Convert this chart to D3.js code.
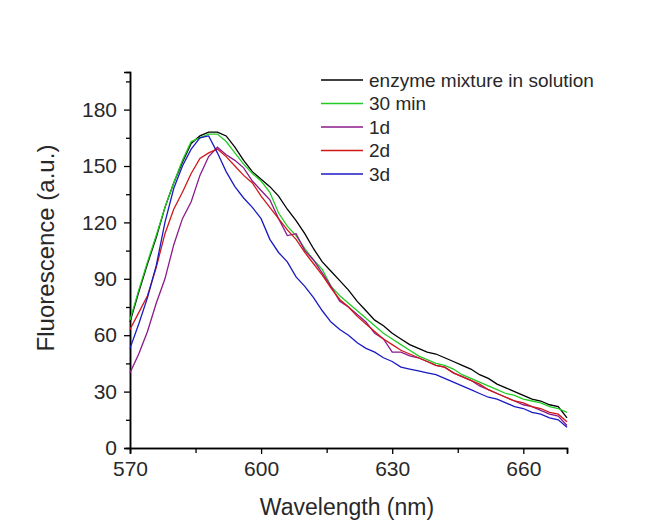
<!DOCTYPE html>
<html>
<head>
<meta charset="utf-8">
<script src="https://cdn.jsdelivr.net/npm/d3@7"></script>
<style>
  body { margin: 0; background: #fff; }
  text { font-family: "Liberation Sans", Arial, sans-serif; fill: #282828; }
</style>
</head>
<body>
<div class="canvas"></div>
<script>
// wavelengths read every 2 nm
const wavelength = [570,572,574,576,578,580,582,584,586,588,590,592,594,596,598,600,602,604,606,608,610,612,614,616,618,620,622,624,626,628,630,632,634,636,638,640,642,644,646,648,650,652,654,656,658,660,662,664,666,668,670]

const enzymeMix = [67,83,98,112,128,141,152,162,166,168,168,166,160,153,147,143,139,134,127,121,114,106,99,94,89,84,78,73,68,65,61,58,55,53,51,50,48,46,44,42,39,37,34,32,30,28,26,25,23,22,16]
const min30 = [68,84,99,113,128,141,153,163,165,167,167,163,157,151,146,142,136,125,118,113,106,100,95,86,81,77,73,69,65,61,58,55,52,49,47,45,44,42,39,37,35,33,31,29,28,26,25,24,22,21,19]
const day1 = [40,50,62,77,90,108,122,131,145,155,160,156,153,149,142,137,132,122,113,114,105,100,93,86,78,75,71,67,61,58,51,51,49,48,46,44,43,40,38,36,33,31,29,27,25,23,22,20,18,17,12]
const day2 = [63,72,81,96,114,127,136,146,154,157,159,155,150,145,141,134,128,122,116,111,104,98,92,85,79,75,70,66,62,58,55,52,50,48,46,44,43,40,38,36,34,31,29,27,25,24,22,21,19,18,14]
const day3 = [53,66,80,97,120,138,150,159,165,166,157,147,139,133,128,122,111,104,99,91,86,80,73,67,63,60,56,53,51,48,46,43,42,41,40,39,37,35,33,31,29,27,26,24,22,21,19,18,16,15,11]

const seriesNames = ["enzyme mixture in solution", "30 min", "1d", "2d", "3d"]
const seriesValues = [enzymeMix, min30, day1, day2, day3]
const seriesColors = ["#000000", "#22cc22", "#8a1a8a", "#d01818", "#1a1ac4"]

const xMajor = [570, 600, 630, 660]
const xMinor = [585, 615, 645]
const yMajor = [0, 30, 60, 90, 120, 150, 180]
const yMinor = [15, 45, 75, 105, 135, 165, 195]

const width = 655
const height = 524
const margin = { top: 72, left: 130 }
const graphWidth = 437
const graphHeight = 376

const svg = d3.select(".canvas")
    .append("svg")
    .attr("width", width)
    .attr("height", height)

const graph = svg.append("g")
    .attr("transform", `translate(${margin.left}, ${margin.top})`)

const scaleX = d3.scaleLinear()
    .domain([570, 670])
    .range([0, graphWidth])

const scaleY = d3.scaleLinear()
    .domain([0, 200])
    .range([graphHeight, 0])

// axes (minor ticks first, then major with labels)
const xMinorAxis = d3.axisBottom(scaleX).tickValues(xMinor).tickSize(5).tickFormat("")
const xAxis = d3.axisBottom(scaleX).tickValues(xMajor).tickSize(6).tickPadding(7)
const yMinorAxis = d3.axisLeft(scaleY).tickValues(yMinor).tickSize(4).tickFormat("")
const yAxis = d3.axisLeft(scaleY).tickValues(yMajor).tickSize(6).tickPadding(7)

graph.append("g").attr("transform", `translate(0, ${graphHeight})`).call(xMinorAxis)
const xAxisGroup = graph.append("g").attr("transform", `translate(0, ${graphHeight})`).call(xAxis)
graph.append("g").call(yMinorAxis)
const yAxisGroup = graph.append("g").call(yAxis)

graph.selectAll(".domain").attr("stroke", "#000").attr("stroke-width", 1.5)
graph.selectAll(".tick line").attr("stroke", "#000").attr("stroke-width", 1.3)
xAxisGroup.selectAll("text").style("font-size", "21px").attr("fill", "#282828")
yAxisGroup.selectAll("text").style("font-size", "21px").attr("fill", "#282828")

// curves
const line = d3.line()
    .x((d, i) => scaleX(wavelength[i]))
    .y(d => scaleY(d))

graph.selectAll(".curve")
    .data(seriesValues)
    .enter()
    .append("path")
    .attr("class", "curve")
    .attr("d", d => line(d))
    .attr("fill", "none")
    .attr("stroke", (d, i) => seriesColors[i])
    .attr("stroke-width", 1.3)

// legend
const legend = svg.append("g").attr("transform", "translate(321, 80)")
seriesNames.forEach((name, i) => {
    const row = legend.append("g").attr("transform", `translate(0, ${i * 23.5})`)
    row.append("line")
        .attr("x1", 0).attr("x2", 42)
        .attr("stroke", seriesColors[i])
        .attr("stroke-width", 1.3)
    row.append("text")
        .attr("x", 48)
        .attr("dy", "0.35em")
        .style("font-size", "19px")
        .text(name)
})

// axis titles
svg.append("text")
    .attr("x", 347)
    .attr("y", 515)
    .attr("text-anchor", "middle")
    .style("font-size", "23px")
    .text("Wavelength (nm)")

svg.append("text")
    .attr("transform", "translate(54, 248) rotate(-90)")
    .attr("text-anchor", "middle")
    .style("font-size", "24px")
    .text("Fluorescence (a.u.)")
</script>
</body>
</html>
